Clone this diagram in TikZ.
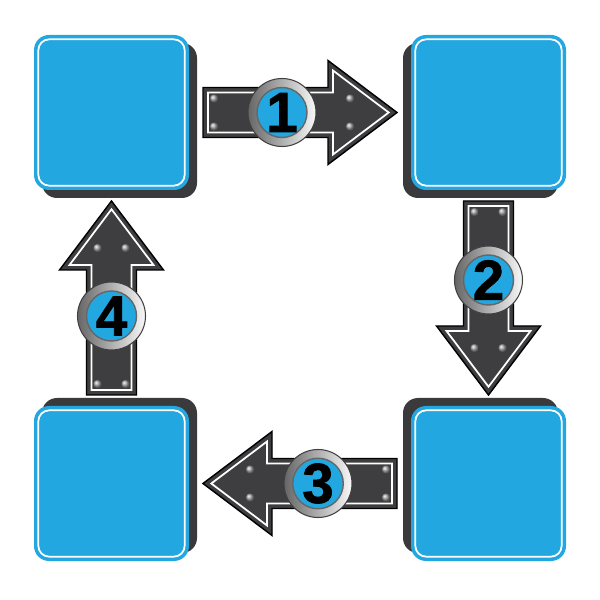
\documentclass[tikz,border=0pt]{standalone}
\usepackage{fontspec}
\setmainfont{Liberation Sans}
\newfontfamily\badgefont[BoldFeatures={FakeBold=1.5}]{Liberation Sans}
\usetikzlibrary{calc,shadows}
\definecolor{boxblue}{RGB}{35,167,224}
\definecolor{boxshadow}{RGB}{58,58,60}
\definecolor{arrowgray}{RGB}{62,62,64}
\tikzstyle{box}=[rectangle, rounded corners=0.15cm, minimum size=1.55cm, inner sep=0pt, fill=boxblue]
\tikzset{shadowed/.style 2 args={drop shadow={shadow xshift=#1, shadow yshift=#2, opacity=1, fill=boxshadow}}}
\tikzset{ring/.style={circle, minimum size=0.68cm, inner sep=0pt, left color=gray!80!black, right color=gray!5, draw=gray!50!black, line width=0.3pt}}
\tikzset{badge/.style={circle, minimum size=0.5cm, inner sep=0pt, fill=boxblue, draw=black!60, line width=0.4pt, font=\badgefont\fontsize{16}{16}\selectfont\bfseries}}
\tikzset{metalarrow/.pic={
    \draw[fill=arrowgray, draw=black, line width=0.4pt]
      (-0.97,-0.25) -- (0.28,-0.25) -- (0.28,-0.52) -- (0.97,0) -- (0.28,0.52) -- (0.28,0.25) -- (-0.97,0.25) -- cycle;
    \draw[white, line width=0.5pt]
      (-0.92,-0.20) -- (0.33,-0.20) -- (0.33,-0.42) -- (0.887,0) -- (0.33,0.42) -- (0.33,0.20) -- (-0.92,0.20) -- cycle;
    \foreach \x in {-0.86,0.50}{
      \foreach \y in {-0.14,0.14}{
        \shade[ball color=gray!70] (\x,\y) circle (0.042);
      }
    }
  }}

\begin{document}
\begin{tikzpicture}
  \useasboundingbox (0,0) rectangle (6,6);

  %% the four boxes, shadow towards the middle
  \draw (1.115,4.875) node[box,shadowed={0.08cm}{-0.08cm}] (B1) {};
  \draw (4.885,4.875) node[box,shadowed={-0.08cm}{-0.08cm}] (B2) {};
  \draw (4.885,1.165) node[box,shadowed={-0.08cm}{0.08cm}] (B3) {};
  \draw (1.115,1.165) node[box,shadowed={0.08cm}{0.08cm}] (B4) {};

  \foreach \b in {B1,B2,B3,B4}
    \draw[white, line width=0.5pt, rounded corners=0.11cm]
      ([shift={(0.05,0.05)}]\b.south west) rectangle ([shift={(-0.05,-0.05)}]\b.north east);

  %% arrows between the boxes
  \begin{scope}[shift={($(B1)!0.5!(B2)$)}]
    \pic[transform shape] {metalarrow};
    \node[ring] (R1) at (-0.18,0) {};
    \node[badge] (N1) at (R1) {1};
  \end{scope}
  \begin{scope}[shift={($(B2)!0.5!(B3)$)}, rotate=-90]
    \pic[transform shape] {metalarrow};
    \node[ring] (R2) at (-0.18,0) {};
    \node[badge] (N2) at (R2) {2};
  \end{scope}
  \begin{scope}[shift={($(B3)!0.5!(B4)$)}, rotate=180]
    \pic[transform shape] {metalarrow};
    \node[ring] (R3) at (-0.18,0) {};
    \node[badge] (N3) at (R3) {3};
  \end{scope}
  \begin{scope}[shift={($(B4)!0.5!(B1)$)}, rotate=90]
    \pic[transform shape] {metalarrow};
    \node[ring] (R4) at (-0.18,0) {};
    \node[badge] (N4) at (R4) {4};
  \end{scope}
\end{tikzpicture}
\end{document}
